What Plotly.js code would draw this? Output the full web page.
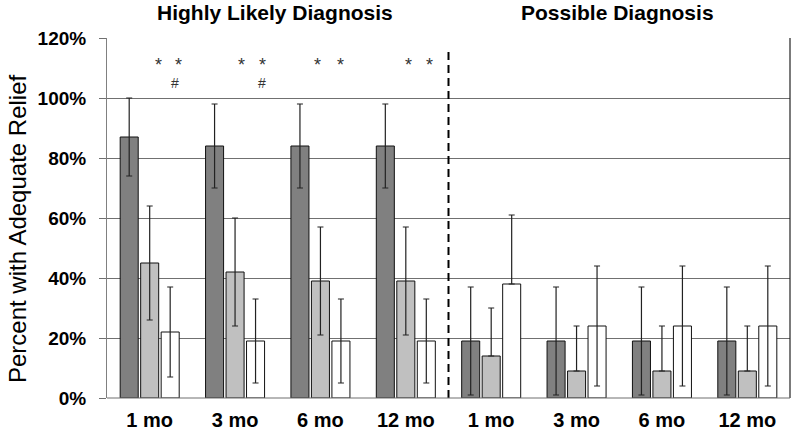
<!DOCTYPE html>
<html>
<head>
<meta charset="utf-8">
<script src="https://cdn.plot.ly/plotly-3.0.1.min.js"></script>
<style>html,body{margin:0;padding:0;background:#fff;}#chart{width:800px;height:436px;}</style>
</head>
<body>
<div id="chart"></div>
<script>
// Category positions and labels (two panels of four time points)
const tickLabels = ["1 mo", "3 mo", "6 mo", "12 mo", "1 mo", "3 mo", "6 mo", "12 mo"];
const xPos = [0, 1, 2, 3, 4, 5, 6, 7];

// Series 1 (dark gray)
const darkVals  = [87, 84, 84, 84, 19, 19, 19, 19];
const darkHigh  = [100, 98, 98, 98, 37, 37, 37, 37];
const darkLow   = [74, 70, 70, 70, 1, 1, 1, 1];

// Series 2 (light gray)
const lightVals = [45, 42, 39, 39, 14, 9, 9, 9];
const lightHigh = [64, 60, 57, 57, 30, 24, 24, 24];
const lightLow  = [26, 24, 21, 21, 14, 9, 9, 9];

// Series 3 (white)
const whiteVals = [22, 19, 19, 19, 38, 24, 24, 24];
const whiteHigh = [37, 33, 33, 33, 61, 44, 44, 44];
const whiteLow  = [7, 5, 5, 5, 38, 4, 4, 4];

// Significance marks
const markX    = [0.10, 0.34, 1.07, 1.32, 1.97, 2.23, 3.03, 3.28, 0.30, 1.32];
const markY    = [111, 111, 111, 111, 111, 111, 111, 111, 105, 105];
const markText = ["*", "*", "*", "*", "*", "*", "*", "*", "#", "#"];

const panelTitles = ["Highly Likely Diagnosis", "Possible Diagnosis"];
const panelTitleX = [1.47, 5.48];
const yTitle = "Percent with Adequate Relief";

function errs(vals, hi, lo, color) {
  return {
    type: 'data', symmetric: false, visible: true,
    array: vals.map((v, i) => hi[i] - v),
    arrayminus: vals.map((v, i) => v - lo[i]),
    color: color, thickness: 1.2, width: 3
  };
}

const FONT = 'Liberation Sans, Arial, sans-serif';

const traces = [
  {type: 'bar', x: xPos, y: darkVals, marker: {color: '#808080', line: {color: '#111', width: 1}},
   error_y: errs(darkVals, darkHigh, darkLow, '#222'), hoverinfo: 'skip'},
  {type: 'bar', x: xPos, y: lightVals, marker: {color: '#c0c0c0', line: {color: '#111', width: 1}},
   error_y: errs(lightVals, lightHigh, lightLow, '#222'), hoverinfo: 'skip'},
  {type: 'bar', x: xPos, y: whiteVals, marker: {color: '#ffffff', line: {color: '#111', width: 1}},
   error_y: errs(whiteVals, whiteHigh, whiteLow, '#222'), hoverinfo: 'skip'}
];

const annotations = markText.map((t, i) => ({
  x: markX[i], y: markY[i], xref: 'x', yref: 'y', text: t, showarrow: false,
  font: {family: FONT, size: t === '*' ? 18 : 14, color: '#333'}
}));
panelTitles.forEach((t, i) => annotations.push({
  x: panelTitleX[i], y: 1, xref: 'x', yref: 'paper', yanchor: 'bottom', yshift: 12,
  text: '<b>' + t + '</b>', showarrow: false,
  font: {family: FONT, size: 21, color: '#000'}
}));
annotations.push({
  x: -0.13, y: 0.47, xref: 'paper', yref: 'paper', xanchor: 'center', yanchor: 'middle',
  text: yTitle, textangle: -90, showarrow: false,
  font: {family: FONT, size: 24, color: '#000'}
});

const layout = {
  width: 800, height: 436,
  margin: {l: 107, r: 10, t: 38, b: 38, pad: 0},
  paper_bgcolor: '#fff', plot_bgcolor: '#fff',
  showlegend: false,
  barmode: 'group', bargap: 0.28, bargroupgap: 0.12,
  font: {family: FONT, color: '#000'},
  xaxis: {
    range: [-0.5, 7.5], tickvals: xPos, ticktext: tickLabels,
    showgrid: false, zeroline: false, showline: false, ticks: '',
    ticklabelstandoff: 8,
    tickfont: {family: FONT, size: 20, color: '#000', weight: 'bold'}
  },
  yaxis: {
    range: [0, 120], dtick: 20, ticksuffix: '%',
    showgrid: true, gridcolor: '#707070', gridwidth: 1,
    zeroline: false, showline: true, linecolor: '#808080', linewidth: 1,
    ticks: 'outside', ticklen: 7, tickcolor: '#707070', ticklabelstandoff: 9,
    tickfont: {family: FONT, size: 19, color: '#000', weight: 'bold'}
  },
  shapes: [
    {type: 'line', xref: 'x', yref: 'paper', x0: 3.5, x1: 3.5, y0: 0, y1: 0.975,
     line: {color: '#000', width: 2, dash: '8px,5px'}},
    {type: 'line', xref: 'paper', yref: 'paper', x0: 1, x1: 1, y0: 0, y1: 1,
     line: {color: '#222', width: 1.2}},
    {type: 'line', xref: 'paper', yref: 'paper', x0: 0, x1: 1, y0: 0, y1: 0,
     line: {color: '#707070', width: 1.2}}
  ],
  annotations: annotations
};

Plotly.newPlot('chart', traces, layout, {displayModeBar: false, staticPlot: true});
</script>
</body>
</html>
